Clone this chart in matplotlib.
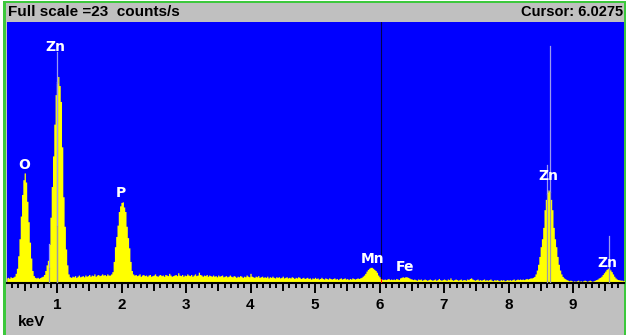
import matplotlib
matplotlib.use('Agg')
import matplotlib.pyplot as plt
import numpy as np
from matplotlib.ticker import MultipleLocator

# EDS spectrum, counts/s per 0.02 keV channel (first channel 0.22 keV)
ch_start = 0.22
ch_width = 0.02
counts = [
    0.45, 0.50, 0.42, 0.55, 0.48, 0.52, 0.60, 0.85, 1.3, 2.4,      # 0.22
    3.9, 5.9, 7.8, 9.1, 9.7, 8.9, 7.2, 5.4, 3.6, 2.2,              # 0.42
    1.1, 0.65, 0.5, 0.45, 0.5, 0.42, 0.48, 0.55, 0.6, 0.75,        # 0.62
    1.1, 1.6, 2.0, 3.4, 5.8, 8.5, 11.2, 14.0, 16.6, 17.6,          # 0.82
    18.2, 17.4, 16.0, 12.0, 7.6, 5.0, 3.0, 1.6, 0.8, 0.55,         # 1.02
    0.5, 0.6, 0.55, 0.65, 0.5, 0.6, 0.7, 0.55, 0.6, 0.65,          # 1.22
    0.55, 0.7, 0.6, 0.65, 0.75, 0.6, 0.7, 0.65, 0.8, 0.6,          # 1.42
    0.7, 0.75, 0.65, 0.7, 0.8, 0.7, 0.75, 0.65, 0.8, 0.7,          # 1.62
    0.7, 0.8, 1.0, 1.9, 3.2, 4.1, 5.1, 6.3, 6.8, 7.1,              # 1.82
    7.15, 6.7, 6.3, 5.0, 4.0, 3.1, 1.9, 1.1, 0.8, 0.7,             # 2.02
    0.75, 0.65, 0.7, 0.8, 0.6, 0.7, 0.75, 0.65, 0.7, 0.6,          # 2.22
    0.7, 0.75, 0.6, 0.65, 0.7, 0.8, 0.65, 0.6, 0.7, 0.75,          # 2.42
    0.65, 0.7, 0.6, 0.75, 0.7, 0.65, 0.85, 0.7, 0.6, 0.65,         # 2.62
    0.7, 0.75, 0.65, 0.9, 0.7, 0.65, 0.75, 0.6, 0.7, 0.65,         # 2.82
    0.8, 0.7, 0.65, 0.75, 0.6, 0.7, 0.8, 0.65, 0.7, 0.95,          # 3.02
    0.75, 0.7, 0.6, 0.7, 0.65, 0.75, 0.6, 0.7, 0.65, 0.6,          # 3.22
    0.7, 0.6, 0.65, 0.55, 0.7, 0.6, 0.65, 0.7, 0.55, 0.6,          # 3.42
    0.65, 0.55, 0.6, 0.7, 0.6, 0.55, 0.65, 0.6, 0.5, 0.6,          # 3.62
    0.55, 0.65, 0.6, 0.5, 0.6, 0.55, 0.7, 0.6, 0.55, 0.85,         # 3.82
    0.6, 0.55, 0.5, 0.6, 0.55, 0.65, 0.5, 0.55, 0.6, 0.5,          # 4.02
    0.55, 0.5, 0.6, 0.45, 0.55, 0.5, 0.6, 0.5, 0.45, 0.55,         # 4.22
    0.5, 0.55, 0.45, 0.5, 0.6, 0.45, 0.5, 0.55, 0.45, 0.5,         # 4.42
    0.45, 0.55, 0.5, 0.4, 0.5, 0.45, 0.55, 0.5, 0.4, 0.45,         # 4.62
    0.5, 0.4, 0.45, 0.5, 0.4, 0.45, 0.35, 0.45, 0.4, 0.5,          # 4.82
    0.4, 0.45, 0.35, 0.4, 0.5, 0.4, 0.35, 0.45, 0.4, 0.35,         # 5.02
    0.45, 0.4, 0.35, 0.4, 0.45, 0.35, 0.4, 0.3, 0.4, 0.45,         # 5.22
    0.35, 0.4, 0.45, 0.35, 0.4, 0.3, 0.4, 0.35, 0.45, 0.4,         # 5.42
    0.35, 0.4, 0.45, 0.4, 0.45, 0.5, 0.6, 0.7, 0.85, 1.05,         # 5.62
    1.2, 1.3, 1.38, 1.38, 1.3, 1.2, 1.1, 0.95, 0.7, 0.55,          # 5.82
    0.4, 0.35, 0.3, 0.35, 0.3, 0.35, 0.4, 0.3, 0.35, 0.3,          # 6.02
    0.35, 0.3, 0.4, 0.35, 0.3, 0.45, 0.5, 0.55, 0.5, 0.55,         # 6.22
    0.55, 0.5, 0.45, 0.38, 0.35, 0.3, 0.35, 0.3, 0.25, 0.35,       # 6.42
    0.3, 0.35, 0.25, 0.3, 0.35, 0.3, 0.25, 0.3, 0.35, 0.3,         # 6.62
    0.25, 0.3, 0.35, 0.25, 0.3, 0.4, 0.3, 0.25, 0.3, 0.35,         # 6.82
    0.3, 0.25, 0.35, 0.3, 0.45, 0.3, 0.25, 0.3, 0.35, 0.3,         # 7.02
    0.25, 0.3, 0.35, 0.25, 0.3, 0.3, 0.25, 0.35, 0.3, 0.4,         # 7.22
    0.45, 0.35, 0.3, 0.25, 0.3, 0.35, 0.25, 0.3, 0.25, 0.3,        # 7.42
    0.35, 0.25, 0.3, 0.25, 0.3, 0.35, 0.25, 0.2, 0.3, 0.25,        # 7.62
    0.3, 0.25, 0.2, 0.3, 0.25, 0.3, 0.2, 0.25, 0.3, 0.25,          # 7.82
    0.3, 0.25, 0.3, 0.35, 0.25, 0.3, 0.35, 0.3, 0.35, 0.3,         # 8.02
    0.35, 0.3, 0.35, 0.4, 0.35, 0.4, 0.45, 0.45, 0.5, 0.58,        # 8.22
    0.8, 1.14, 1.65, 2.34, 3.2, 3.9, 4.9, 6.46, 7.37, 8.0,         # 8.42
    8.2, 8.1, 7.37, 6.46, 4.9, 3.9, 3.2, 2.34, 1.65, 1.14,         # 8.62
    0.8, 0.58, 0.45, 0.38, 0.3, 0.25, 0.2, 0.25, 0.2, 0.15,        # 8.82
    0.2, 0.15, 0.2, 0.25, 0.15, 0.2, 0.15, 0.2, 0.25, 0.2,         # 9.02
    0.15, 0.2, 0.25, 0.2, 0.15, 0.2, 0.25, 0.3, 0.35, 0.45,        # 9.22
    0.5, 0.6, 0.75, 0.9, 1.05, 1.2, 1.3, 1.25, 1.15, 1.0,          # 9.42
    0.8, 0.6, 0.45, 0.35, 0.3, 0.28, 0.25, 0.25, 0.2, 0.22,        # 9.62
    0.2,                                                           # 9.82
]
counts = np.array(counts)
energy = ch_start + ch_width * np.arange(len(counts))

full_scale = 23
cursor_kev = 6.0275
tick_kev = [1, 2, 3, 4, 5, 6, 7, 8, 9]

peak_labels = ['O', 'Zn', 'P', 'Mn', 'Fe', 'Zn', 'Zn']
label_kev = [0.493, 0.969, 1.988, 5.888, 6.395, 8.617, 9.531]
label_cps = [10.4, 20.8, 7.96, 2.09, 1.44, 9.46, 1.79]

# KLM marker lines (position, height in counts/s)
marker_kev = [0.88, 1.005, 1.005, 8.595, 8.643, 9.558]
marker_top = [1.3, 20.4, 5.0, 10.4, 20.9, 4.1]

W, H = 627, 335
fig = plt.figure(figsize=(W / 100, H / 100), dpi=100, facecolor='white')

# frame / panels in pixel coords
bg = fig.add_axes([0, 0, 1, 1], zorder=0)
bg.set_xlim(0, W)
bg.set_ylim(H, 0)
bg.axis('off')
bg.add_patch(plt.Rectangle((5, 2), 620, H, color='#C0C0C0', lw=0))
green = '#3CC83C'
bg.add_patch(plt.Rectangle((3, 0.5), 623, 2.5, color=green, lw=0))
bg.add_patch(plt.Rectangle((3, 0.5), 2.5, H, color=green, lw=0))
bg.add_patch(plt.Rectangle((624, 0.5), 2, H, color=green, lw=0))
bg.text(8, 12.5, 'Full scale =23  counts/s', fontsize=11, fontweight='bold',
        family='Liberation Sans', va='center', ha='left')
bg.text(623, 12.5, 'Cursor: 6.0275', fontsize=10.5, fontweight='bold',
        family='Liberation Sans', va='center', ha='right')
bg.text(18, 322, 'keV', fontsize=11, fontweight='bold',
        family='Liberation Sans', va='center', ha='left')

# spectrum axes
x0, x1, ytop, ybot = 7, 624, 22, 283
ax = fig.add_axes([x0 / W, (H - ybot) / H, (x1 - x0) / W, (ybot - ytop) / H], zorder=1)
ax.set_facecolor('#0000FF')
ax.set_xlim((x0 + 7.5) / 64.5, (x1 + 7.5) / 64.5)
ax.set_ylim(0, full_scale)

ax.fill_between(energy, counts, 0, step='mid', color='#FFFF00', lw=0, zorder=2)

for e, top in zip(marker_kev, marker_top):
    s = np.interp(e, energy, counts)
    ax.plot([e, e], [s, top], color='#9A9AF0', lw=0.9, zorder=3)
    ax.plot([e, e], [0, min(s, top)], color='#9A9AA8', lw=0.9, zorder=3)

s = np.interp(cursor_kev, energy, counts)
ax.plot([cursor_kev, cursor_kev], [s, full_scale], color='#000050', lw=0.8, zorder=4)
ax.plot([cursor_kev, cursor_kev], [0, s], color='#FF0000', lw=0.8, zorder=4)

for t, e, c in zip(peak_labels, label_kev, label_cps):
    ax.text(e, c, t, color='white', fontsize=10, fontweight='bold',
            ha='center', va='center', zorder=5)

for side in ['top', 'left', 'right']:
    ax.spines[side].set_visible(False)
ax.spines['bottom'].set_linewidth(1.5)
ax.spines['bottom'].set_color('black')
ax.set_yticks([])
ax.set_xticks(tick_kev)
ax.set_xticklabels([str(t) for t in tick_kev], fontsize=11, fontweight='bold',
                   family='Liberation Sans')
ax.xaxis.set_minor_locator(MultipleLocator(0.1))
ax.tick_params(axis='x', which='major', direction='out', length=7.2, width=1.4, pad=3.5)
ax.tick_params(axis='x', which='minor', direction='out', length=3.6, width=1.4)
# half-keV ticks slightly longer
half = [t + 0.5 for t in range(0, 10) if (x0 + 7.5) / 64.5 < t + 0.5 < (x1 + 7.5) / 64.5]
for h in half:
    ax.plot([h, h], [0, -7 / (ybot - ytop)], color='black', lw=1.4,
            transform=ax.get_xaxis_transform(), clip_on=False, zorder=6)

fig.savefig('out.png', dpi=100, facecolor='white')
